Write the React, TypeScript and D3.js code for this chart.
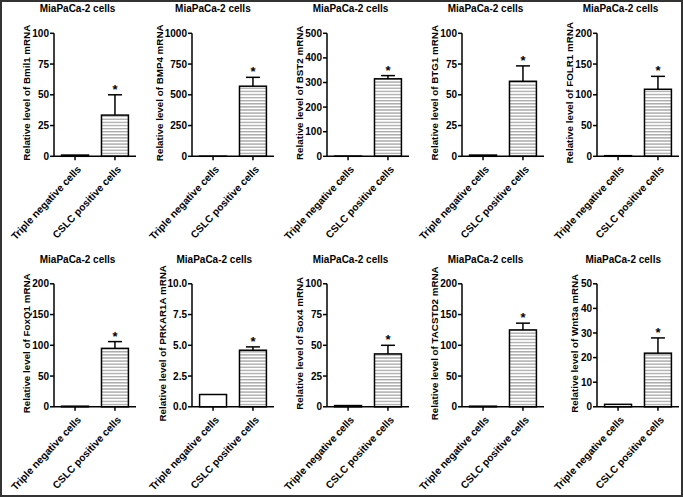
import React from "react";
import * as d3 from "d3";

const panelTitle = "MiaPaCa-2 cells";
const genes = ["Bmil1", "BMP4", "BST2", "BTG1", "FOLR1", "FoxQ1", "PRKAR1A", "Sox4", "TACSTD2", "Wnt3a"];
const categories = ["Triple negative cells", "CSLC positive cells"];
const negValues = [1, 1, 1, 1, 1, 1, 1, 1, 1, 1];
const posValues = [33.5, 570, 315, 61, 109, 95, 4.6, 43, 125, 21.8];
const posErrors = [16.5, 72, 13, 12.5, 21, 11, 0.27, 7, 11, 6.2];
const yMax = [100, 1000, 500, 100, 200, 200, 10, 100, 200, 50];
const yStep = [25, 250, 100, 25, 50, 50, 2.5, 25, 50, 10];

const W = 683;
const H = 497;
const FONT = "'Liberation Sans', Arial, Helvetica, sans-serif";
const colAxisX = [54, 192, 327, 462, 597];
const rowTop = [33.3, 283.8];
const plotH = 123;
const plotW = 82;

function Panel({ i }: { i: number }) {
  const col = i % 5;
  const row = Math.floor(i / 5);
  const ax = colAxisX[col];
  const top = rowTop[row];
  const bottom = top + plotH;
  const y = d3.scaleLinear().domain([0, yMax[i]]).range([bottom, top]);
  const x = d3
    .scaleBand<string>()
    .domain(categories)
    .range([ax, ax + plotW])
    .paddingInner(0.325)
    .paddingOuter(0.19);
  const ticks = d3.range(0, yMax[i] + yStep[i] / 2, yStep[i]);
  const fmt = yStep[i] % 1 !== 0 ? d3.format(".1f") : d3.format("d");
  const maxLabel = d3.max(ticks.map((t) => fmt(t).length)) as number;
  const hasDot = ticks.some((t) => fmt(t).includes("."));
  const labelW = maxLabel * 5.3 - (hasDot ? 2.8 : 0);
  const labelX = ax - 8 - labelW;
  const titleCx = (labelX - 11 + ax + plotW) / 2;
  const bw = x.bandwidth();
  const vals = [negValues[i], posValues[i]];
  const errTop = y(posValues[i] + posErrors[i]);
  const cx2 = (x(categories[1]) as number) + bw / 2;
  return (
    <g>
      <text
        x={titleCx}
        y={top - 21}
        textAnchor="middle"
        fontFamily={FONT}
        fontWeight="bold"
        fontSize={10}
      >
        {panelTitle}
      </text>
      <text
        transform={`translate(${labelX},${(top + bottom) / 2 - 2}) rotate(-90)`}
        textAnchor="middle"
        fontFamily={FONT}
        fontWeight="bold"
        fontSize={9.8}
      >
        {`Relative level of ${genes[i]} mRNA`}
      </text>
      {categories.map((c, k) => {
        const bx = x(c) as number;
        const by = y(vals[k]);
        return (
          <rect
            key={c}
            x={bx}
            y={by}
            width={bw}
            height={bottom - by}
            fill={k === 1 ? "url(#stripes)" : "#fff"}
            stroke="#000"
            strokeWidth={1.5}
          />
        );
      })}
      <line x1={cx2} x2={cx2} y1={y(posValues[i])} y2={errTop} stroke="#000" strokeWidth={1.5} />
      <line x1={cx2 - 7} x2={cx2 + 7} y1={errTop} y2={errTop} stroke="#000" strokeWidth={1.5} />
      <text
        x={cx2}
        y={errTop - 1}
        textAnchor="middle"
        fontFamily={FONT}
        fontWeight="bold"
        fontSize={13}
      >
        *
      </text>
      <line x1={ax} x2={ax} y1={top} y2={bottom} stroke="#000" strokeWidth={1.5} />
      {ticks.map((t) => (
        <g key={t}>
          <line x1={ax - 4} x2={ax} y1={y(t)} y2={y(t)} stroke="#000" strokeWidth={1.5} />
          <text
            x={ax - 5}
            y={y(t)}
            dy="0.35em"
            textAnchor="end"
            fontFamily={FONT}
            fontWeight="bold"
            fontSize={10}
          >
            {fmt(t)}
          </text>
        </g>
      ))}
      <line x1={ax} x2={ax + plotW} y1={bottom} y2={bottom} stroke="#000" strokeWidth={1.5} />
      {categories.map((c) => {
        const cx = (x(c) as number) + bw / 2;
        return (
          <g key={c}>
            <line x1={cx} x2={cx} y1={bottom} y2={bottom + 4} stroke="#000" strokeWidth={1.5} />
            <text
              transform={`translate(${cx + 4},${bottom + 11}) rotate(-47)`}
              textAnchor="end"
              dy="0.35em"
              fontFamily={FONT}
              fontWeight="bold"
              fontSize={10.2}
            >
              {c}
            </text>
          </g>
        );
      })}
    </g>
  );
}

export default function App() {
  return (
    <svg
      width={W}
      height={H}
      viewBox={`0 0 ${W} ${H}`}
      style={{ position: "absolute", left: 0, top: 0, background: "#fff" }}
    >
      <defs>
        <pattern id="stripes" patternUnits="userSpaceOnUse" width={6} height={3.1}>
          <rect width={6} height={3.1} fill="#fff" />
          <line x1={0} x2={6} y1={1.5} y2={1.5} stroke="#8a8a8a" strokeWidth={1} />
        </pattern>
      </defs>
      <rect x={0} y={0} width={W} height={H} fill="#fff" />
      <rect x={1} y={1} width={W - 2} height={H - 2} fill="none" stroke="#333" strokeWidth={2} />
      {genes.map((g, i) => (
        <Panel key={g} i={i} />
      ))}
    </svg>
  );
}
